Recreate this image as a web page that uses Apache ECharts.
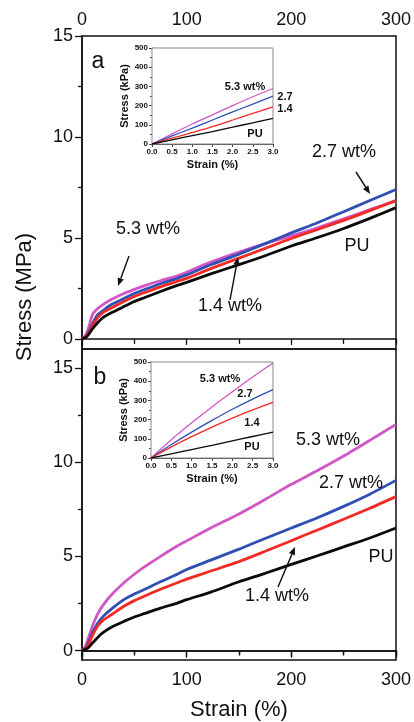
<!DOCTYPE html>
<html>
<head>
<meta charset="utf-8">
<script src="https://cdn.jsdelivr.net/npm/echarts@6/dist/echarts.min.js"></script>
<style>
html,body{margin:0;padding:0;background:#fff;}
#c{width:414px;height:722px;}
</style>
</head>
<body>
<div id="c"></div>
<script>
// ---------- data ----------
const strain = [0, 3, 6, 10, 15, 20, 28, 40, 50, 60, 75, 91, 100, 123, 150, 175, 200, 225, 250, 275, 300];

const aPU  = [0, 0.05, 0.2, 0.5, 0.8, 1.05, 1.29, 1.6, 1.85, 2.05, 2.35, 2.65, 2.8, 3.22, 3.68, 4.12, 4.6, 5.02, 5.47, 5.97, 6.5];
const a14  = [0, 0.08, 0.25, 0.65, 1.05, 1.3, 1.53, 1.85, 2.1, 2.3, 2.58, 2.85, 3.0, 3.48, 4.0, 4.48, 4.97, 5.42, 5.87, 6.35, 6.85];
const a27  = [0, 0.1, 0.3, 0.75, 1.2, 1.4, 1.7, 2.0, 2.25, 2.45, 2.73, 3.0, 3.17, 3.67, 4.2, 4.72, 5.25, 5.75, 6.3, 6.85, 7.4];
const a53  = [0, 0.15, 0.5, 1.2, 1.5, 1.7, 1.95, 2.25, 2.45, 2.64, 2.88, 3.12, 3.3, 3.8, 4.3, 4.72, 5.1, 5.5, 5.95, 6.4, 6.85];

const bPU  = [0, 0.05, 0.15, 0.4, 0.7, 0.95, 1.24, 1.55, 1.78, 1.97, 2.25, 2.52, 2.7, 3.1, 3.65, 4.1, 4.57, 5.03, 5.5, 5.97, 6.5];
const b14  = [0, 0.1, 0.3, 0.8, 1.3, 1.6, 1.9, 2.35, 2.65, 2.9, 3.25, 3.6, 3.79, 4.22, 4.72, 5.27, 5.83, 6.4, 6.97, 7.55, 8.17];
const b27  = [0, 0.12, 0.4, 0.95, 1.45, 1.8, 2.2, 2.7, 3.0, 3.25, 3.65, 4.05, 4.3, 4.8, 5.38, 5.95, 6.5, 7.05, 7.65, 8.3, 9.03];
const b53  = [0, 0.2, 0.65, 1.3, 1.95, 2.4, 2.95, 3.6, 4.05, 4.45, 5.0, 5.55, 5.82, 6.5, 7.25, 8.02, 8.82, 9.55, 10.32, 11.15, 12.0];

const inStrain = [0, 0.5, 1.0, 1.5, 2.0, 2.5, 3.0];
const iaPU = [0, 22, 44, 65, 88, 110, 134];
const ia14 = [0, 30, 60, 91, 125, 160, 193];
const ia27 = [0, 42, 83, 125, 167, 208, 249];
const ia53 = [0, 53, 104, 152, 200, 246, 289];
const ibPU = [0, 22, 44, 66, 89, 112, 135];
const ib14 = [0, 58, 111, 161, 208, 251, 290];
const ib27 = [0, 70, 135, 196, 254, 307, 356];
const ib53 = [0, 95, 183, 266, 345, 422, 495];

const mainYTicks = [0, 5, 10, 15];
const mainYMinor = [2.5, 7.5, 12.5];

// ---------- styles ----------
const FONT = '"Liberation Sans", Arial, sans-serif';
const C = {pu:'#0a0a0a', r14:'#f22a24', b27:'#2f4fb4', m53:'#d257c4'};

function pairs(xs, ys){ return xs.map((x,i)=>[x, ys[i]]); }

function mainLine(name, xi, yi, xs, ys, color){
  return {type:'line', name, xAxisIndex:xi, yAxisIndex:yi, data:pairs(xs, ys),
    showSymbol:false, smooth:0.25, lineStyle:{color, width:2.8}, z:3, silent:true};
}
function insetLine(name, xi, yi, ys, color){
  return {type:'line', name, xAxisIndex:xi, yAxisIndex:yi, data:pairs(inStrain, ys),
    showSymbol:false, smooth:0.3, lineStyle:{color, width:1.3}, z:5, silent:true};
}

function mainX(gi, pos, labels, inside, name){
  return {type:'value', gridIndex:gi, position:pos, min:0, max:300, interval:100,
    axisLine:{show:true, lineStyle:{color:'#111', width:1.5}},
    axisTick:{show:true, inside, length:inside?6:7, lineStyle:{color:'#111', width:1.3}},
    minorTick:{show:true, splitNumber:2, length:inside?5:4, lineStyle:{color:'#111', width:1.3}},
    splitLine:{show:false},
    axisLabel:{show:labels, fontSize:18, color:'#111', fontFamily:FONT, margin:pos==='top'?7:11},
    name: name || '', nameLocation:'middle', nameGap:39,
    nameTextStyle:{fontSize:22, color:'#111', fontFamily:FONT}};
}
function mainY(gi, max){
  return {type:'value', gridIndex:gi, min:-0.5, max,
    axisLine:{show:true, lineStyle:{color:'#111', width:1.5}},
    axisTick:{show:true, inside:false, length:7, customValues:mainYTicks, lineStyle:{color:'#111', width:1.3}},
    splitLine:{show:false},
    axisLabel:{show:true, customValues:mainYTicks, fontSize:18, color:'#111', fontFamily:FONT, margin:9}};
}
function mainYMinorAxis(gi, max){
  return {type:'value', gridIndex:gi, min:-0.5, max, position:'left',
    axisLine:{show:false},
    axisTick:{show:true, inside:false, length:4, customValues:mainYMinor, lineStyle:{color:'#111', width:1.3}},
    splitLine:{show:false}, axisLabel:{show:false}};
}
function insetX(gi){
  return {type:'value', gridIndex:gi, min:0, max:3, interval:0.5,
    axisLine:{show:true, lineStyle:{color:'#444', width:1}},
    axisTick:{show:true, inside:false, length:3, lineStyle:{color:'#444'}},
    splitLine:{show:false},
    axisLabel:{fontSize:8, fontWeight:'bold', color:'#111', fontFamily:FONT, margin:4,
      formatter:v=>v.toFixed(1)},
    name:'Strain (%)', nameLocation:'middle', nameGap:15,
    nameTextStyle:{fontSize:11, fontWeight:'bold', color:'#111', fontFamily:FONT}};
}
function insetY(gi){
  return {type:'value', gridIndex:gi, min:0, max:500, interval:100,
    axisLine:{show:true, lineStyle:{color:'#444', width:1}},
    axisTick:{show:true, inside:false, length:3, lineStyle:{color:'#444'}},
    minorTick:{show:true, splitNumber:2, length:2, lineStyle:{color:'#444'}},
    splitLine:{show:false},
    axisLabel:{fontSize:8, fontWeight:'bold', color:'#111', fontFamily:FONT, margin:4},
    name:'Stress (kPa)', nameLocation:'middle', nameGap:20,
    nameTextStyle:{fontSize:11, fontWeight:'bold', color:'#111', fontFamily:FONT}};
}

// ---------- annotations ----------
function txt(t, x, y, size, bold){
  return {type:'text', x, y, z:20, silent:true,
    style:{text:t, x:0, y:0, font:(bold?'bold ':'')+size+'px '+FONT, fill:'#111',
      align:'center', verticalAlign:'middle', textAlign:'center', textVerticalAlign:'middle'}};
}
function arrow(x1, y1, x2, y2){
  const ang = Math.atan2(y2-y1, x2-x1), L = 8, W = 3.2;
  const bx = x2 - L*Math.cos(ang), by = y2 - L*Math.sin(ang);
  const px = -Math.sin(ang)*W, py = Math.cos(ang)*W;
  return [
    {type:'line', z:20, silent:true, shape:{x1, y1, x2:bx, y2:by}, style:{stroke:'#111', lineWidth:1.4}},
    {type:'polygon', z:20, silent:true, shape:{points:[[x2,y2],[bx+px,by+py],[bx-px,by-py]]}, style:{fill:'#111'}}
  ];
}

const graphics = [
  Object.assign(txt('Stress (MPa)', 25, 297, 22, false), {rotation:Math.PI/2}),
  txt('a', 98, 62, 23, false),
  txt('b', 100, 378, 23, false),
  // panel a
  txt('5.3 wt%', 148, 229, 18, false),
  txt('1.4 wt%', 230, 306, 18, false),
  txt('2.7 wt%', 344, 152, 18, false),
  txt('PU', 357, 246, 18, false),
  ...arrow(129, 256, 118, 286),
  ...arrow(230, 300, 238, 257),
  ...arrow(356, 172, 370, 194),
  // panel b
  txt('5.3 wt%', 328, 440, 18, false),
  txt('2.7 wt%', 351, 483, 18, false),
  txt('PU', 381, 557, 18, false),
  txt('1.4 wt%', 277, 596, 18, false),
  ...arrow(278, 587, 295, 547),
  // inset a
  txt('5.3 wt%', 245, 87, 11, true),
  txt('2.7', 285, 97, 11, true),
  txt('1.4', 285, 109, 11, true),
  txt('PU', 255, 134, 11, true),
  // inset b
  txt('5.3 wt%', 220, 379, 11, true),
  txt('2.7', 245, 394, 11, true),
  txt('1.4', 252, 423, 11, true),
  txt('PU', 252, 447, 11, true)
];

const option = {
  backgroundColor:'#fff',
  animation:false,
  grid:[
    {left:82, top:36, width:316, height:313, show:true, borderColor:'#111', borderWidth:1.5, backgroundColor:'transparent'},
    {left:82, top:349, width:316, height:311, show:true, borderColor:'#111', borderWidth:1.5, backgroundColor:'transparent'},
    {left:152, top:48, width:121, height:96, show:true, borderColor:'#8a8a8a', borderWidth:1, backgroundColor:'#fff', z:4},
    {left:151, top:362, width:122, height:96, show:true, borderColor:'#8a8a8a', borderWidth:1, backgroundColor:'#fff', z:4}
  ],
  xAxis:[
    mainX(0, 'top', true, true),
    mainX(1, 'bottom', true, false, 'Strain (%)'),
    mainX(1, 'top', false, true),
    insetX(2),
    insetX(3)
  ],
  yAxis:[
    mainY(0, 15),
    mainYMinorAxis(0, 15),
    mainY(1, 16),
    mainYMinorAxis(1, 16),
    insetY(2),
    insetY(3)
  ],
  series:[
    mainLine('5.3 wt%', 0, 0, strain, a53, C.m53),
    mainLine('2.7 wt%', 0, 0, strain, a27, C.b27),
    mainLine('1.4 wt%', 0, 0, strain, a14, C.r14),
    mainLine('PU', 0, 0, strain, aPU, C.pu),
    mainLine('5.3 wt%', 1, 2, strain, b53, C.m53),
    mainLine('2.7 wt%', 1, 2, strain, b27, C.b27),
    mainLine('1.4 wt%', 1, 2, strain, b14, C.r14),
    mainLine('PU', 1, 2, strain, bPU, C.pu),
    insetLine('5.3 wt%', 3, 4, ia53, C.m53),
    insetLine('2.7 wt%', 3, 4, ia27, C.b27),
    insetLine('1.4 wt%', 3, 4, ia14, C.r14),
    insetLine('PU', 3, 4, iaPU, C.pu),
    insetLine('5.3 wt%', 4, 5, ib53, C.m53),
    insetLine('2.7 wt%', 4, 5, ib27, C.b27),
    insetLine('1.4 wt%', 4, 5, ib14, C.r14),
    insetLine('PU', 4, 5, ibPU, C.pu)
  ],
  graphic:graphics
};

const chart = echarts.init(document.getElementById('c'), null, {renderer:'canvas'});
chart.setOption(option);
</script>
</body>
</html>
